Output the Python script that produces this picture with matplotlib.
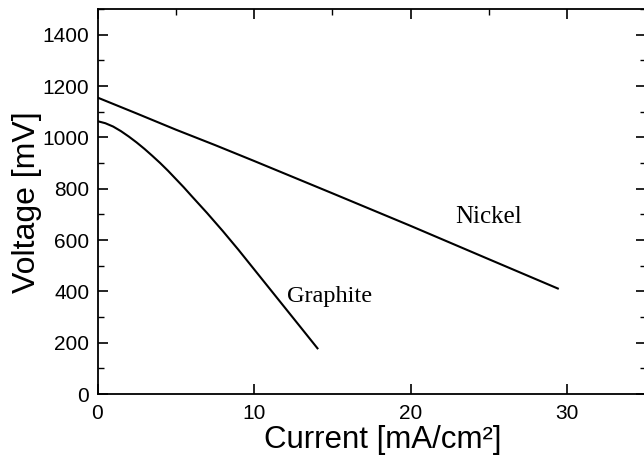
import numpy as np
from matplotlib import pyplot as plt
from matplotlib.ticker import MultipleLocator

# values
nickel_i = [0, 2.5, 5, 7.5, 10, 15, 20, 25, 29.4]
nickel_v = [1155, 1093, 1030, 970, 908, 782, 655, 525, 411]

graphite_i = [0, 0.5, 1, 1.5, 2, 2.5, 3, 3.5, 4, 4.5, 5, 5.5, 6, 7, 8, 9, 10, 11, 12, 13, 14.05]
graphite_v = [1063, 1055, 1042, 1024, 1003, 980, 955, 928, 900, 870, 838, 806, 772, 705, 635, 562, 486, 410, 334, 258, 178]

sans = ['Liberation Sans', 'DejaVu Sans']
serif = ['Liberation Serif', 'DejaVu Serif']

fig = plt.figure(figsize=(6.44, 4.58), dpi=100)
ax = fig.add_axes([97.5 / 644, 64 / 458, (645.5 - 97.5) / 644, (394 - 9) / 458])

ax.plot(nickel_i, nickel_v, color='black', lw=1.5)
ax.plot(graphite_i, graphite_v, color='black', lw=1.5)

ax.text(25.0, 690, 'Nickel', family=serif, fontsize=18, ha='center', va='center')
ax.text(14.8, 380, 'Graphite', family=serif, fontsize=17.5, ha='center', va='center')

ax.set_xlim(0, 35)
ax.set_ylim(0, 1500)
ax.set_xticks([0, 10, 20, 30])
ax.set_yticks(np.arange(0, 1401, 200))
ax.xaxis.set_minor_locator(MultipleLocator(5))
ax.yaxis.set_minor_locator(MultipleLocator(100))

ax.tick_params(which='major', direction='in', length=7, width=1.2,
               labelsize=15, pad=6, top=True, right=True)
ax.tick_params(axis='x', which='major', pad=7)
ax.tick_params(which='minor', direction='in', length=4, width=1.0,
               bottom=False, top=True, left=True, right=True)
for lab in ax.get_xticklabels() + ax.get_yticklabels():
    lab.set_family(sans)

for sp in ax.spines.values():
    sp.set_linewidth(1.3)

ax.set_xlabel('Current [mA/cm²]', family=sans, fontsize=22.5)
ax.set_ylabel('Voltage [mV]', family=sans, fontsize=23)
ax.xaxis.label.set_va('baseline')
ax.xaxis.set_label_coords((383 - 97.5) / 548, (394 - 448) / 385)
ax.yaxis.label.set_va('center')
ax.yaxis.set_label_coords((27 - 97.5) / 548, (394 - 202) / 385)

plt.savefig('out.png', dpi=100)
